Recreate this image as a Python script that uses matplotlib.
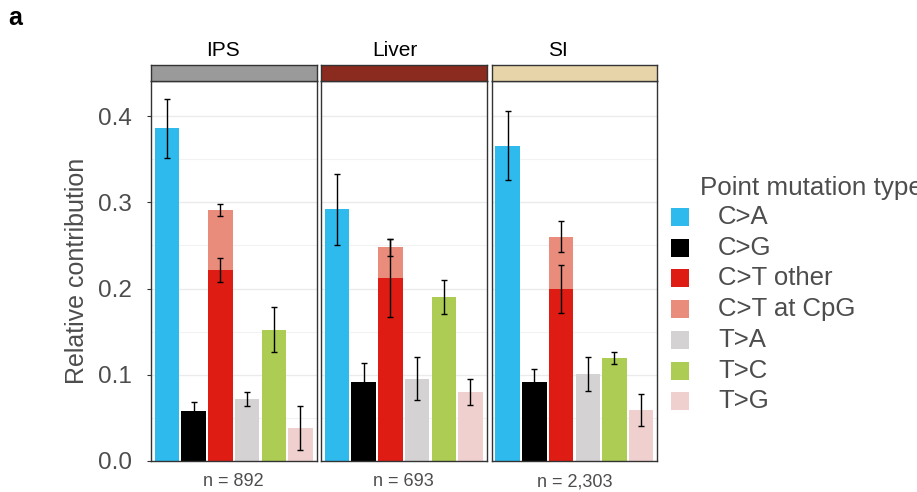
import numpy as np
import matplotlib.pyplot as plt
from matplotlib.patches import Rectangle

plt.rcParams['font.family'] = ['Liberation Sans', 'DejaVu Sans']

tissues = ['IPS', 'Liver', 'SI']
n_labels = ['n = 892', 'n = 693', 'n = 2,303']
strip_colors = ['#9A9A9A', '#8B2A1E', '#E7D5A9']

types = ['C>A', 'C>G', 'C>T other', 'C>T at CpG', 'T>A', 'T>C', 'T>G']
type_colors = ['#2EBAED', '#000000', '#DE1C14', '#E98C7B', '#D4D2D2', '#ADCC54', '#F0D0CE']

# mean relative contribution per type (C>T at CpG is stacked on C>T other)
ips_mean = [0.386, 0.058, 0.222, 0.069, 0.072, 0.152, 0.038]
liver_mean = [0.292, 0.091, 0.212, 0.036, 0.095, 0.190, 0.080]
si_mean = [0.366, 0.091, 0.199, 0.061, 0.101, 0.119, 0.059]

# half-width of the error bars
ips_err = [0.034, 0.010, 0.014, 0.007, 0.008, 0.026, 0.025]
liver_err = [0.041, 0.023, 0.045, 0.010, 0.025, 0.020, 0.015]
si_err = [0.040, 0.015, 0.028, 0.018, 0.020, 0.007, 0.019]

means = [ips_mean, liver_mean, si_mean]
errs = [ips_err, liver_err, si_err]

W, H = 917, 492
fig = plt.figure(figsize=(W / 100, H / 100), dpi=100)

panel_x = [151, 321, 491.7]
panel_w = 165.5
top_px, bot_px = 80.7, 460.7
strip_top = 65
title_x = [223, 394.5, 558]

ymax = 0.4414
for i, t in enumerate(tissues):
    ax = fig.add_axes([panel_x[i] / W, 1 - bot_px / H, panel_w / W, (bot_px - top_px) / H])
    m = means[i]
    e = errs[i]
    # x positions: one slot per mutation type, CpG shares the C>T slot
    pos = [0, 1, 2, 2, 3, 4, 5]
    bottoms = [0, 0, 0, m[2], 0, 0, 0]
    for k in range(len(types)):
        ax.bar(pos[k], m[k], bottom=bottoms[k], width=0.92, color=type_colors[k], zorder=2)
    for k in range(len(types)):
        top = m[k] + bottoms[k]
        ax.errorbar(pos[k], top, yerr=e[k], fmt='none', ecolor='black',
                    elinewidth=1.0, capsize=2.5, capthick=1.0, zorder=3)
    ax.set_xlim(-0.6, 5.6)
    ax.set_ylim(0, ymax)
    ax.set_yticks([0, 0.1, 0.2, 0.3, 0.4])
    ax.set_yticks(np.arange(0.05, 0.45, 0.1), minor=True)
    ax.grid(axis='y', which='major', color='#EBEBEB', linewidth=1.0, zorder=0)
    ax.grid(axis='y', which='minor', color='#F2F2F2', linewidth=0.8, zorder=0)
    ax.set_xticks([])
    for s in ax.spines.values():
        s.set_color('#333333')
        s.set_linewidth(1.0)
    if i == 0:
        ax.set_yticklabels(['0.0', '0.1', '0.2', '0.3', '0.4'], fontsize=17.5, color='#4D4D4D')
        ax.tick_params(axis='y', which='major', length=3, color='#333333', pad=11)
        ax.tick_params(axis='y', which='minor', length=0)
        ax.set_ylabel('Relative contribution', fontsize=18, color='#4D4D4D', labelpad=6)
    else:
        ax.tick_params(axis='y', which='both', length=0, labelleft=False)
    ax.set_xlabel(n_labels[i], fontsize=13, color='#4D4D4D', labelpad=9)

    # facet strip
    sax = fig.add_axes([panel_x[i] / W, 1 - top_px / H, panel_w / W, (top_px - strip_top) / H])
    sax.set_facecolor(strip_colors[i])
    sax.set_xticks([])
    sax.set_yticks([])
    for s in sax.spines.values():
        s.set_color('#333333')
        s.set_linewidth(1.0)
    fig.text(title_x[i] / W, 1 - 50 / H, t, ha='center', va='center',
             fontsize=15, color='black')

# legend drawn by hand
fig.text(700 / W, 1 - 188 / H, 'Point mutation type', ha='left', va='center',
         fontsize=18.7, color='#4D4D4D')
for k, (lab, col) in enumerate(zip(types, type_colors)):
    yc = 217 + k * 30.7
    fig.patches.append(Rectangle((671 / W, 1 - (yc + 9) / H), 18 / W, 18 / H,
                                 transform=fig.transFigure, facecolor=col,
                                 edgecolor='none'))
    fig.text(718 / W, 1 - yc / H, lab, ha='left', va='center', fontsize=18.5, color='#4D4D4D')

fig.text(8 / W, 1 - 18 / H, 'a', ha='left', va='center', fontsize=18,
         fontweight='bold', color='black')

plt.savefig('out.png', dpi=100)
